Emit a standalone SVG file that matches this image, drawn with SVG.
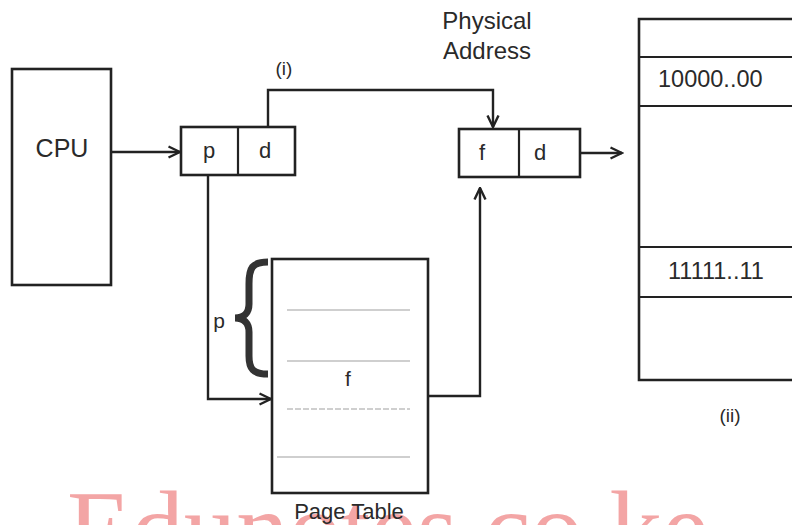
<svg xmlns="http://www.w3.org/2000/svg" width="792" height="525" viewBox="0 0 792 525">
<style>
.box{fill:none;stroke:#222;stroke-width:2.6}
.div{stroke:#222;stroke-width:2.2}
.conn{fill:none;stroke:#222;stroke-width:2.4}
.t{font-family:"Liberation Sans",Arial,sans-serif;fill:#2a2a2a}
.faint{stroke:#a0a0a0;stroke-width:1.2}
</style>
<defs>
<marker id="arr" viewBox="0 0 14 14" refX="12.5" refY="7" markerWidth="14" markerHeight="14" markerUnits="userSpaceOnUse" orient="auto">
<path d="M1,1.5 L12.5,7 L1,12.5" fill="none" stroke="#222" stroke-width="2.4"/>
</marker>
</defs>
<rect width="792" height="525" fill="#fff"/>

<text x="67" y="564" font-family="'Liberation Serif','Times New Roman',serif" font-size="105" fill="#ee7f7f" fill-opacity="0.7">Edunotes.co.ke</text>

<g id="cpu">
<rect class="box" x="12" y="69" width="99" height="216"/>
<text class="t" x="62" y="157" font-size="25" text-anchor="middle">CPU</text>
</g>

<g id="logical-address">
<rect class="box" x="181" y="127" width="114" height="48"/>
<line class="div" x1="238" y1="127" x2="238" y2="175"/>
<text class="t" x="209" y="158" font-size="22" text-anchor="middle">p</text>
<text class="t" x="265" y="158" font-size="22" text-anchor="middle">d</text>
<text class="t" x="284" y="75" font-size="19" text-anchor="middle">(i)</text>
</g>

<g id="physical-address">
<rect class="box" x="459" y="129" width="121" height="48"/>
<line class="div" x1="519" y1="129" x2="519" y2="177"/>
<text class="t" x="482" y="160" font-size="22" text-anchor="middle">f</text>
<text class="t" x="540" y="160" font-size="22" text-anchor="middle">d</text>
<text class="t" x="487" y="29" font-size="24" text-anchor="middle">Physical</text>
<text class="t" x="487" y="59" font-size="24" text-anchor="middle">Address</text>
</g>

<g id="memory">
<path class="box" d="M794,19 H639 V380 H794" stroke-width="3"/>
<line class="div" x1="639" y1="57" x2="794" y2="57"/>
<line class="div" x1="639" y1="106" x2="794" y2="106"/>
<line class="div" x1="639" y1="247" x2="794" y2="247"/>
<line class="div" x1="639" y1="297" x2="794" y2="297"/>
<text class="t" x="658" y="87" font-size="23.5">10000..00</text>
<text class="t" x="668" y="279" font-size="23.5">11111..11</text>
<text class="t" x="730" y="422" font-size="19" text-anchor="middle">(ii)</text>
</g>

<g id="page-table">
<rect class="box" x="272" y="259" width="156" height="234"/>
<line class="faint" x1="287" y1="310" x2="410" y2="310"/>
<line class="faint" x1="287" y1="361" x2="410" y2="361"/>
<line class="faint" x1="287" y1="409" x2="410" y2="409" stroke-dasharray="6 2"/>
<line class="faint" x1="277" y1="457" x2="410" y2="457"/>
<text class="t" x="348" y="386" font-size="21" text-anchor="middle">f</text>
<path d="M268,262 C252,262 249,268 249,284 L249,304 C249,313 244,318 235,318 C244,318 249,323 249,332 L249,356 C249,369 253,374 268,374" fill="none" stroke="#333" stroke-width="7"/>
<text class="t" x="219" y="328" font-size="21" text-anchor="middle">p</text>
<text class="t" x="349" y="519" font-size="22" text-anchor="middle">Page Table</text>
</g>

<g id="connectors">
<path class="conn" d="M111,152 H180" marker-end="url(#arr)"/>
<path class="conn" d="M268,127 V90 H493 V127" marker-end="url(#arr)"/>
<path class="conn" d="M580,153 H622" marker-end="url(#arr)"/>
<path class="conn" d="M208,175 V399 H271" marker-end="url(#arr)"/>
<path class="conn" d="M428,396 H480 V188" marker-end="url(#arr)"/>
</g>
</svg>
